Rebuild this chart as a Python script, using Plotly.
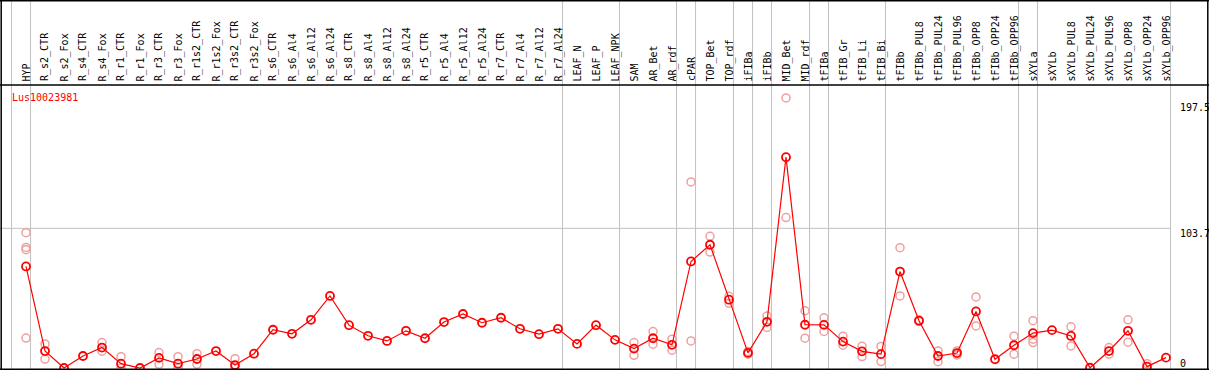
import plotly.graph_objects as go

W, H = 1209, 370

categories = [
    "HYP", "R_s2_CTR", "R_s2_Fox", "R_s4_CTR", "R_s4_Fox", "R_r1_CTR", "R_r1_Fox",
    "R_r3_CTR", "R_r3_Fox", "R_r1s2_CTR", "R_r1s2_Fox", "R_r3s2_CTR", "R_r3s2_Fox",
    "R_s6_CTR", "R_s6_Al4", "R_s6_Al12", "R_s6_Al24", "R_s8_CTR", "R_s8_Al4",
    "R_s8_Al12", "R_s8_Al24", "R_r5_CTR", "R_r5_Al4", "R_r5_Al12", "R_r5_Al24",
    "R_r7_CTR", "R_r7_Al4", "R_r7_Al12", "R_r7_Al24", "LEAF_N", "LEAF_P", "LEAF_NPK",
    "SAM", "AR_Bet", "AR_rdf", "cPAR", "TOP_Bet", "TOP_rdf", "iFIBa", "iFIBb",
    "MID_Bet", "MID_rdf", "tFIBa", "tFIB_Gr", "tFIB_Li", "tFIB_Bi", "tFIBb",
    "tFIBb_PUL8", "tFIBb_PUL24", "tFIBb_PUL96", "tFIBb_OPP8", "tFIBb_OPP24",
    "tFIBb_OPP96", "sXYLa", "sXYLb", "sXYLb_PUL8", "sXYLb_PUL24", "sXYLb_PUL96",
    "sXYLb_OPP8", "sXYLb_OPP24", "sXYLb_OPP96",
]

mean_values = [
    75.4, 12.6, 0.0, 8.9, 15.2, 3.2, 0.0, 7.5, 3.2, 6.7, 12.6, 2.2, 10.6,
    28.4, 25.4, 35.8, 53.5, 31.8, 23.9, 20.1, 27.6, 22.1, 34.1, 40.1, 33.6,
    37.3, 29.1, 25.1, 29.1, 17.9, 31.8, 20.9,
    14.4, 22.1, 17.2, 79.1, 91.5, 50.7, 11.2, 34.3,
    156.5, 32.1, 32.0, 19.6, 12.4, 10.3, 71.6,
    35.1, 8.9, 11.1, 42.0, 6.5, 16.9,
    25.9, 28.1, 23.8, 0.2, 12.6, 27.6, 1.0, 7.7,
]

# replicate measurements (None = no separate replicate visible)
rep_1 = [
    100.5, 17.9, None, None, 18.9, 8.4, None, 11.5, 8.4, 10.6, None, 6.9, None,
    None, None, None, None, None, None, None, None, None, None, None, None,
    None, None, None, None, None, None, None,
    18.9, 27.1, 21.4, 138.1, 97.8, 53.2, 12.2, 38.6,
    200.5, 42.5, 37.3, 23.6, 16.2, 16.0, 89.3,
    35.6, 12.7, 12.7, 52.8, None, 23.6,
    35.1, None, 30.6, None, 15.2, 35.8, 3.2, None,
]
rep_2 = [
    89.5, 6.6, None, None, 12.5, 0.0, None, 2.7, 0.0, 2.7, None, 0.0, None,
    None, None, None, None, None, None, None, None, None, None, None, None,
    None, None, None, None, None, None, None,
    9.4, 17.7, 13.2, 20.1, 86.1, 48.0, 10.2, 30.1,
    111.7, 22.1, 27.1, 16.9, 8.5, 4.8, 53.5,
    34.6, 4.7, 9.7, 31.2, None, 10.2,
    21.4, None, 16.4, None, 10.2, 19.2, None, None,
]
rep_3 = [
    87.8, None, None, None, None, None, None, None, None, None, None, None, None,
    None, None, None, None, None, None, None, None, None, None, None, None,
    None, None, None, None, None, None, None,
    None, None, None, None, None, None, None, None,
    None, None, None, None, None, None, None,
    None, None, None, None, None, None,
    18.9, None, None, None, None, None, None, None,
]
rep_4 = [22.2] + [None] * 60

# separators drawn after these category indices (-1 = before the first one)
separator_after = [-1, 0, 28, 31, 34, 35, 37, 38, 39, 41, 42, 45, 52, 53, 60]

y_ticks = [0, 103.7, 197.5]
y_tick_labels = ["0", "103.7", "197.5"]
gene_name = "Lus10023981"

# ---- pixel geometry of the panel ----
X0_PX, STEP_PX = 26.0, 19.0          # centre of first column, column spacing
Y0_PX, PX_PER_UNIT = 368.0, 1.347    # pixel row of value 0, pixels per unit
HEADER_PX = 85.0
RIGHT_LINE_PX = 1170.7

x_range = [-X0_PX / STEP_PX, (W - X0_PX) / STEP_PX]
y_range = [-(H - Y0_PX) / PX_PER_UNIT, Y0_PX / PX_PER_UNIT]

def px_x(p):
    return p / W

def px_y(p):
    return 1 - p / H

xs = list(range(len(categories)))

fig = go.Figure()

rep_color = "#F0A0A0"
for reps in (rep_1, rep_2, rep_3, rep_4):
    fig.add_trace(go.Scatter(
        x=xs, y=reps, mode="markers",
        marker=dict(symbol="circle-open", size=8, color=rep_color,
                    line=dict(width=1.5, color=rep_color)),
        hoverinfo="skip", showlegend=False,
    ))

fig.add_trace(go.Scatter(
    x=xs, y=mean_values, mode="lines+markers",
    line=dict(color="#FF0000", width=1.2),
    marker=dict(symbol="circle-open", size=8, color="#FF0000",
                line=dict(width=1.8, color="#FF0000")),
    text=categories, showlegend=False,
))

shapes = []
# vertical group separators (full height, through header)
for idx in separator_after:
    shapes.append(dict(type="line", xref="x", yref="paper",
                       x0=idx + 0.24, x1=idx + 0.24, y0=0, y1=1,
                       line=dict(color="#C0C0C0", width=1), layer="below"))
# horizontal gridline at the middle tick
shapes.append(dict(type="line", xref="paper", yref="y",
                   x0=0, x1=px_x(RIGHT_LINE_PX), y0=y_ticks[1], y1=y_ticks[1],
                   line=dict(color="#C0C0C0", width=1), layer="below"))
# black frame lines
black = dict(color="#000000", width=1.5)
shapes += [
    dict(type="line", xref="paper", yref="paper", x0=0, x1=1, y0=px_y(0.8), y1=px_y(0.8), line=black),
    dict(type="line", xref="paper", yref="paper", x0=0, x1=1, y0=px_y(HEADER_PX), y1=px_y(HEADER_PX), line=black),
    dict(type="line", xref="paper", yref="paper", x0=0, x1=1, y0=px_y(369.2), y1=px_y(369.2), line=black),
    dict(type="line", xref="paper", yref="paper", x0=px_x(1.2), x1=px_x(1.2), y0=0, y1=1, line=black),
    dict(type="line", xref="paper", yref="paper", x0=px_x(1207.8), x1=px_x(1207.8), y0=0, y1=1, line=black),
]

annotations = []
mono = "DejaVu Sans Mono"
for i, name in enumerate(categories):
    annotations.append(dict(
        x=i, y=px_y(83.5), xref="x", yref="paper", text=name, textangle=-90,
        showarrow=False, xanchor="center", yanchor="bottom",
        font=dict(family=mono, size=10, color="#000000"),
    ))
for v, lab in zip(y_ticks, y_tick_labels):
    annotations.append(dict(
        x=px_x(1177.5), y=v, xref="paper", yref="y", text=lab,
        showarrow=False, xanchor="left", yanchor="top", yshift=2 if v else 12,
        font=dict(family=mono, size=10, color="#000000"),
    ))
annotations.append(dict(
    x=px_x(9.5), y=px_y(98), xref="paper", yref="paper", text=gene_name,
    showarrow=False, xanchor="left", yanchor="middle",
    font=dict(family=mono, size=10, color="#FF0000"),
))

fig.update_layout(
    width=W, height=H,
    margin=dict(l=0, r=0, t=0, b=0),
    paper_bgcolor="#FFFFFF", plot_bgcolor="#FFFFFF",
    xaxis=dict(range=x_range, visible=False, fixedrange=True),
    yaxis=dict(range=y_range, visible=False, fixedrange=True),
    shapes=shapes, annotations=annotations,
    showlegend=False,
)

fig.write_html(
    "out.html",
    config={"displayModeBar": False},
    post_script="document.body.style.margin='0px'; document.body.style.overflow='hidden';",
)
